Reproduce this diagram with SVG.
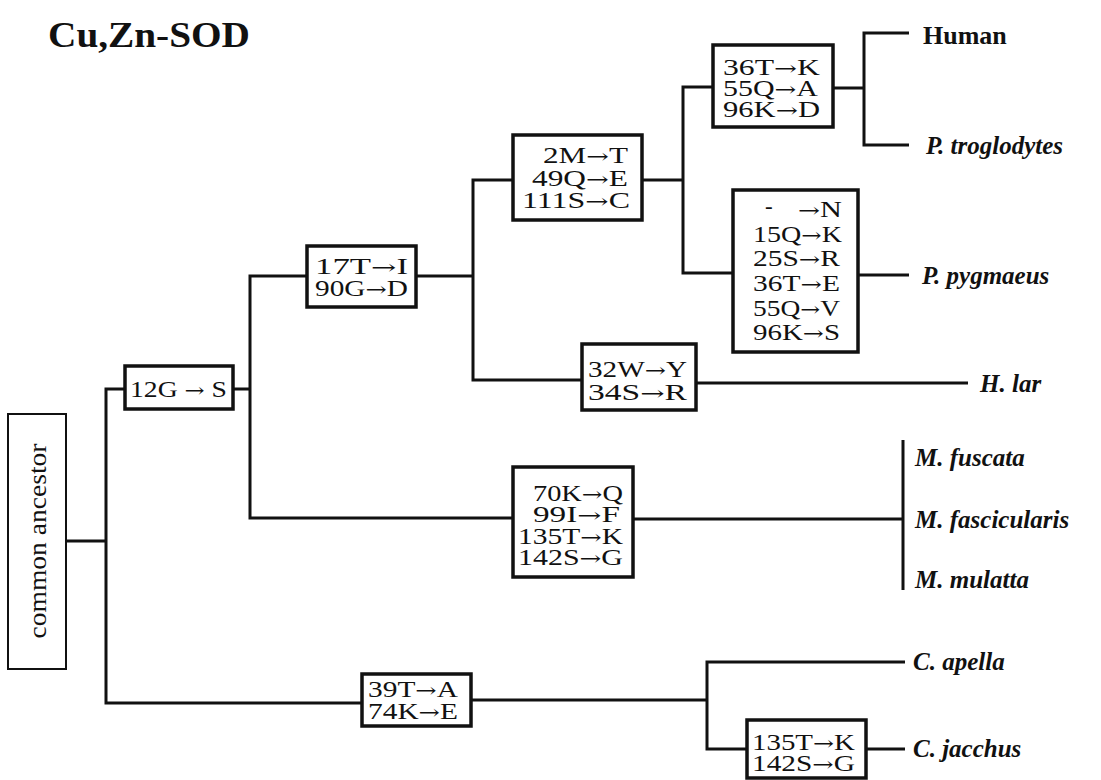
<svg xmlns="http://www.w3.org/2000/svg" width="1101" height="780" viewBox="0 0 1101 780">
<style>
.bx{fill:#fff;stroke:#111;stroke-width:3.5}
.anc{fill:#fff;stroke:#111;stroke-width:2}
.m{font-family:"Liberation Serif",serif;font-size:23px;fill:#111}
.a{font-family:"DejaVu Serif",serif;font-size:20px}
.sp{font-family:"Liberation Serif",serif;font-size:25px;font-style:italic;font-weight:bold;fill:#111}
.hu{font-family:"Liberation Serif",serif;font-size:26px;font-weight:bold;fill:#111}
.ln{fill:none;stroke:#111;stroke-width:3}
</style>
<rect width="1101" height="780" fill="#fff"/>
<text x="48" y="47" font-family="Liberation Serif,serif" font-size="36" font-weight="bold" fill="#111" textLength="202" lengthAdjust="spacingAndGlyphs">Cu,Zn-SOD</text>
<g id="connectors" class="ln">
<path d="M66 541H106M125 389H106V703H362"/>
<path d="M233 389H250M307 276H250V518H513"/>
<path d="M416 276H473M513 180H473V380H582"/>
<path d="M642 180H683M713 87H683V273H733"/>
<path d="M833 88H864M909 33H864V145H909"/>
<path d="M858 275H909"/>
<path d="M696 383H968"/>
<path d="M633 519H903M903 440V590"/>
<path d="M471 700H707M905 662H707V749H747"/>
<path d="M866 749H905"/>
</g>
<g id="ancestor">
<rect class="anc" x="8" y="414" width="58" height="255"/>
<text transform="translate(46 541) rotate(-90)" text-anchor="middle" font-family="Liberation Serif,serif" font-size="26" fill="#111" textLength="195" lengthAdjust="spacingAndGlyphs">common ancestor</text>
</g>
<g id="n12G">
<rect class="bx" x="125" y="366" width="108" height="43"/>
<text class="m" x="130" y="397" textLength="97" lengthAdjust="spacingAndGlyphs">12G <tspan class="a">→</tspan> S</text>
</g>
<g id="n17T">
<rect class="bx" x="307" y="246" width="109" height="61"/>
<text class="m" x="315" y="274" textLength="93" lengthAdjust="spacingAndGlyphs">17T<tspan class="a">→</tspan>I</text>
<text class="m" x="315" y="296" textLength="93" lengthAdjust="spacingAndGlyphs">90G<tspan class="a">→</tspan>D</text>
</g>
<g id="n2M">
<rect class="bx" x="513" y="135" width="129" height="85"/>
<text class="m" x="543" y="163" textLength="85" lengthAdjust="spacingAndGlyphs">2M<tspan class="a">→</tspan>T</text>
<text class="m" x="532" y="186" textLength="96" lengthAdjust="spacingAndGlyphs">49Q<tspan class="a">→</tspan>E</text>
<text class="m" x="522" y="208" textLength="108" lengthAdjust="spacingAndGlyphs">111S<tspan class="a">→</tspan>C</text>
</g>
<g id="n36T">
<rect class="bx" x="713" y="45" width="120" height="82"/>
<text class="m" x="723" y="75" textLength="97" lengthAdjust="spacingAndGlyphs">36T<tspan class="a">→</tspan>K</text>
<text class="m" x="723" y="96" textLength="95" lengthAdjust="spacingAndGlyphs">55Q<tspan class="a">→</tspan>A</text>
<text class="m" x="723" y="117" textLength="97" lengthAdjust="spacingAndGlyphs">96K<tspan class="a">→</tspan>D</text>
</g>
<g id="npyg">
<rect class="bx" x="733" y="190" width="125" height="162"/>
<text class="m" x="765" y="214">-</text>
<text class="m" x="798" y="217" textLength="44" lengthAdjust="spacingAndGlyphs"><tspan class="a">→</tspan>N</text>
<text class="m" x="753" y="242" textLength="89" lengthAdjust="spacingAndGlyphs">15Q<tspan class="a">→</tspan>K</text>
<text class="m" x="753" y="266" textLength="87" lengthAdjust="spacingAndGlyphs">25S<tspan class="a">→</tspan>R</text>
<text class="m" x="753" y="291" textLength="87" lengthAdjust="spacingAndGlyphs">36T<tspan class="a">→</tspan>E</text>
<text class="m" x="753" y="316" textLength="87" lengthAdjust="spacingAndGlyphs">55Q<tspan class="a">→</tspan>V</text>
<text class="m" x="753" y="340" textLength="87" lengthAdjust="spacingAndGlyphs">96K<tspan class="a">→</tspan>S</text>
</g>
<g id="n32W">
<rect class="bx" x="582" y="344" width="114" height="66"/>
<text class="m" x="588" y="377" textLength="99" lengthAdjust="spacingAndGlyphs">32W<tspan class="a">→</tspan>Y</text>
<text class="m" x="588" y="400" textLength="99" lengthAdjust="spacingAndGlyphs">34S<tspan class="a">→</tspan>R</text>
</g>
<g id="n70K">
<rect class="bx" x="513" y="467" width="120" height="110"/>
<text class="m" x="533" y="501" textLength="90" lengthAdjust="spacingAndGlyphs">70K<tspan class="a">→</tspan>Q</text>
<text class="m" x="533" y="522" textLength="87" lengthAdjust="spacingAndGlyphs">99I<tspan class="a">→</tspan>F</text>
<text class="m" x="518" y="544" textLength="105" lengthAdjust="spacingAndGlyphs">135T<tspan class="a">→</tspan>K</text>
<text class="m" x="518" y="565" textLength="105" lengthAdjust="spacingAndGlyphs">142S<tspan class="a">→</tspan>G</text>
</g>
<g id="n39T">
<rect class="bx" x="362" y="674" width="109" height="52"/>
<text class="m" x="368" y="697" textLength="90" lengthAdjust="spacingAndGlyphs">39T<tspan class="a">→</tspan>A</text>
<text class="m" x="368" y="719" textLength="90" lengthAdjust="spacingAndGlyphs">74K<tspan class="a">→</tspan>E</text>
</g>
<g id="n135T">
<rect class="bx" x="747" y="720" width="119" height="58"/>
<text class="m" x="752" y="750" textLength="103" lengthAdjust="spacingAndGlyphs">135T<tspan class="a">→</tspan>K</text>
<text class="m" x="752" y="771" textLength="103" lengthAdjust="spacingAndGlyphs">142S<tspan class="a">→</tspan>G</text>
</g>
<g id="species">
<text class="hu" x="923" y="44">Human</text>
<text class="sp" x="926" y="154">P. troglodytes</text>
<text class="sp" x="922" y="284">P. pygmaeus</text>
<text class="sp" x="980" y="392">H. lar</text>
<text class="sp" x="915" y="466">M. fuscata</text>
<text class="sp" x="915" y="528">M. fascicularis</text>
<text class="sp" x="915" y="588">M. mulatta</text>
<text class="sp" x="913" y="670">C. apella</text>
<text class="sp" x="913" y="757">C. jacchus</text>
</g>
</svg>
